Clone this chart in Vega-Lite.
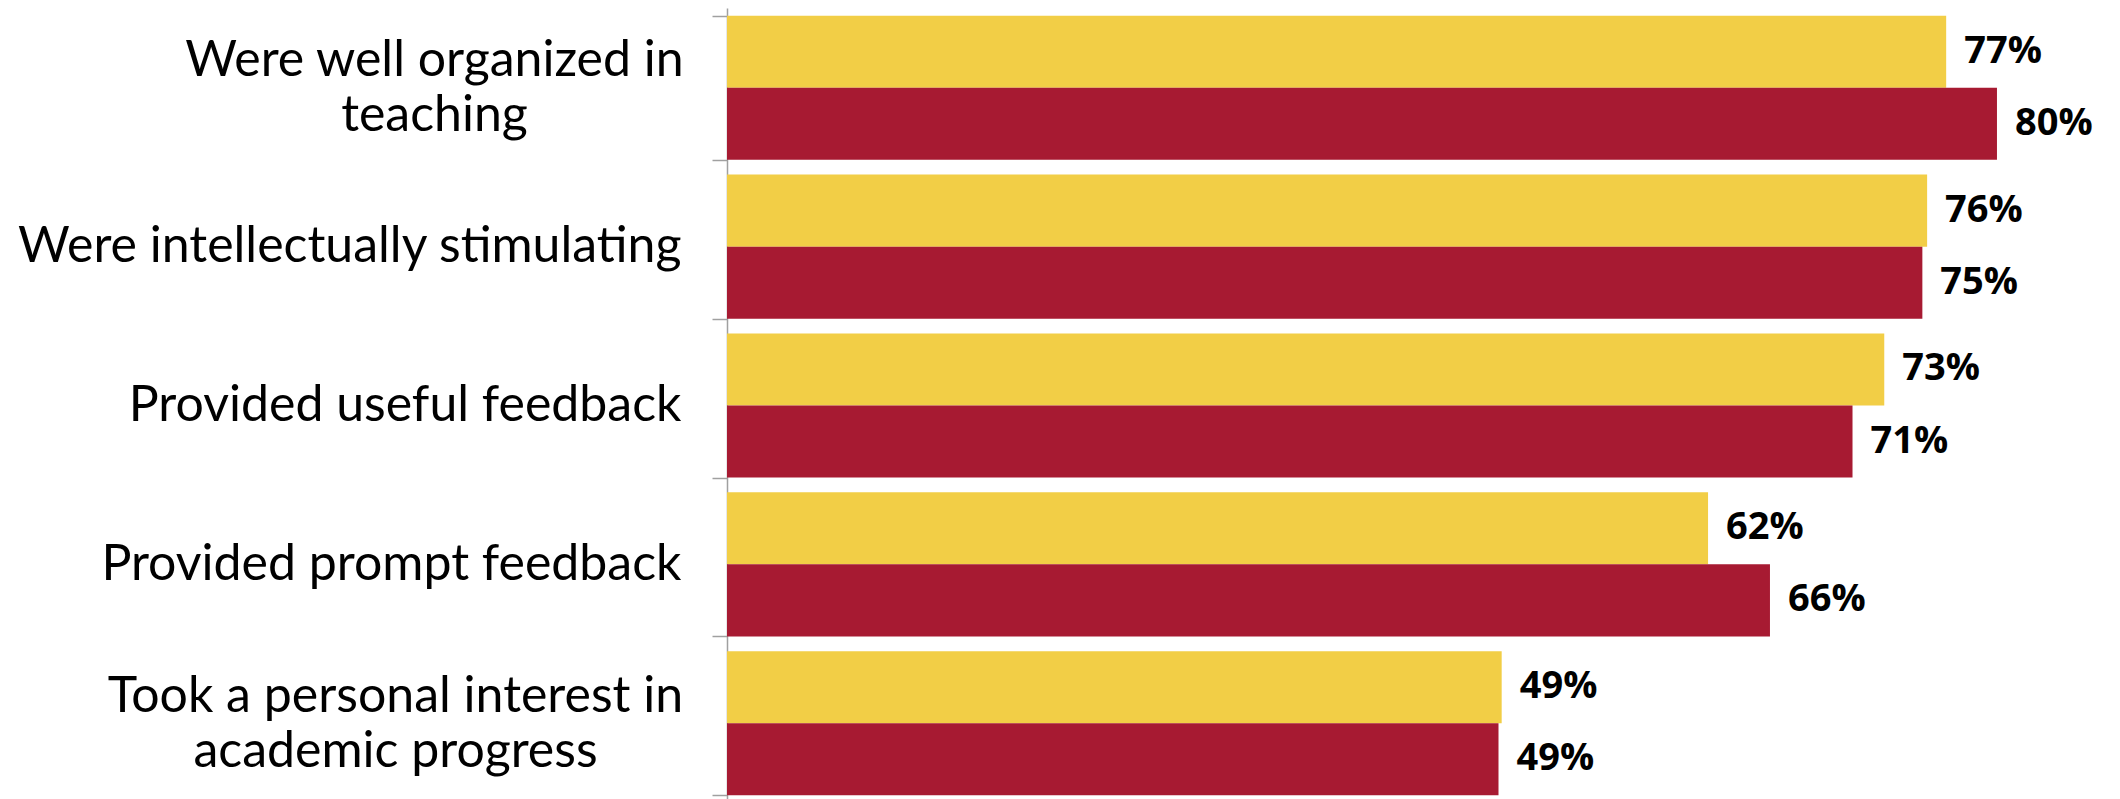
{
  "$schema": "https://vega.github.io/schema/vega-lite/v6.json",
  "autosize": {"type": "none"},
  "padding": {"left": 727, "top": 8, "right": 0, "bottom": 0},
  "width": 1393,
  "height": 795,
  "background": "white",
  "config": {"view": {"stroke": null}},
  "data": {
    "values": [
      {"item": "Were well organized in teaching", "group": "Group 1", "value": 0.768},
      {"item": "Were well organized in teaching", "group": "Group 2", "value": 0.800},
      {"item": "Were intellectually stimulating", "group": "Group 1", "value": 0.756},
      {"item": "Were intellectually stimulating", "group": "Group 2", "value": 0.753},
      {"item": "Provided useful feedback", "group": "Group 1", "value": 0.729},
      {"item": "Provided useful feedback", "group": "Group 2", "value": 0.709},
      {"item": "Provided prompt feedback", "group": "Group 1", "value": 0.618},
      {"item": "Provided prompt feedback", "group": "Group 2", "value": 0.657},
      {"item": "Took a personal interest in academic progress", "group": "Group 1", "value": 0.488},
      {"item": "Took a personal interest in academic progress", "group": "Group 2", "value": 0.486}
    ]
  },
  "encoding": {
    "y": {
      "field": "item",
      "type": "nominal",
      "sort": [
        "Were well organized in teaching",
        "Were intellectually stimulating",
        "Provided useful feedback",
        "Provided prompt feedback",
        "Took a personal interest in academic progress"
      ],
      "scale": {"paddingInner": 0.0925, "paddingOuter": 0.0485},
      "axis": {
        "title": null,
        "domain": true,
        "domainColor": "#A0A0A0",
        "domainWidth": 1.5,
        "ticks": true,
        "tickColor": "#A0A0A0",
        "tickWidth": 1.5,
        "tickSize": 15,
        "tickBand": "extent",
        "labelFont": "Lato",
        "labelFontSize": 50,
        "labelColor": "black",
        "labelLimit": 0,
        "labelLineHeight": 55,
        "labelBaseline": "middle",
        "labelAlign": {
          "condition": {
            "test": "datum.value == 'Were well organized in teaching' || datum.value == 'Took a personal interest in academic progress'",
            "value": "center"
          },
          "value": "right"
        },
        "labelPadding": {
          "condition": [
            {"test": "datum.value == 'Were well organized in teaching'", "value": 278},
            {"test": "datum.value == 'Took a personal interest in academic progress'", "value": 317}
          ],
          "value": 31
        },
        "labelOffset": {
          "condition": {
            "test": "datum.value == 'Were well organized in teaching' || datum.value == 'Took a personal interest in academic progress'",
            "value": -27
          },
          "value": 0
        },
        "labelExpr": "datum.value == 'Were well organized in teaching' ? ['Were well organized in', 'teaching'] : datum.value == 'Took a personal interest in academic progress' ? ['Took a personal interest in', 'academic progress'] : datum.value"
      }
    },
    "yOffset": {
      "field": "group",
      "type": "nominal",
      "sort": ["Group 1", "Group 2"],
      "scale": {"paddingInner": 0, "paddingOuter": 0}
    },
    "x": {
      "field": "value",
      "type": "quantitative",
      "scale": {"domain": [0, 0.8775], "nice": false},
      "axis": null
    }
  },
  "layer": [
    {
      "mark": {"type": "bar"},
      "encoding": {
        "color": {
          "field": "group",
          "type": "nominal",
          "scale": {"domain": ["Group 1", "Group 2"], "range": ["#F2CE46", "#A71A32"]},
          "legend": null
        }
      }
    },
    {
      "mark": {
        "type": "text",
        "align": "left",
        "baseline": "middle",
        "dx": 18,
        "font": "Open Sans",
        "fontWeight": "bold",
        "fontSize": 38,
        "color": "black"
      },
      "encoding": {
        "text": {"field": "value", "type": "quantitative", "format": ".0%"}
      }
    }
  ]
}
